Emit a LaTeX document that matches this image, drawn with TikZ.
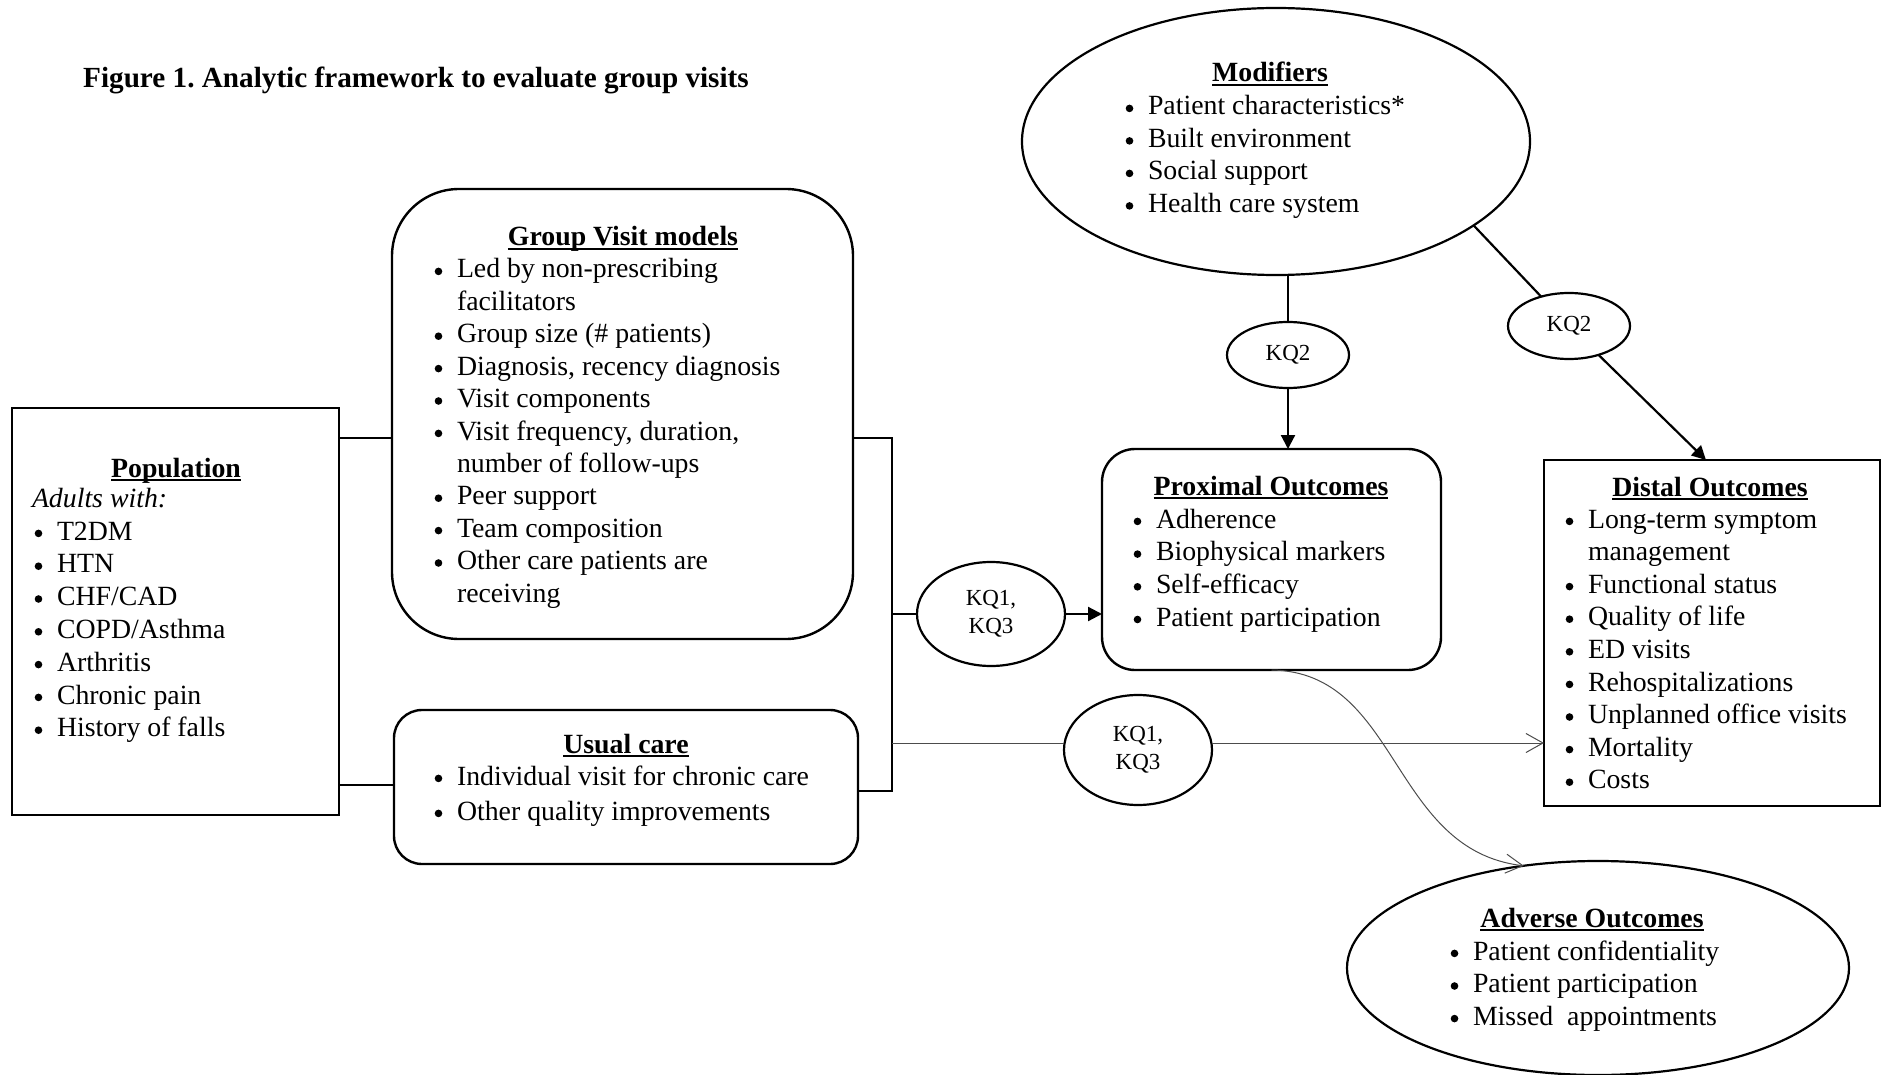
\documentclass[tikz,border=0pt]{standalone}
\usepackage{fontspec}
\setmainfont{Liberation Serif}
\usetikzlibrary{shapes.geometric,arrows.meta,calc}
\frenchspacing
\newsavebox\ulsave
\newcommand\ulhead[1]{\sbox\ulsave{\bfseries #1}\rlap{\rule[-4pt]{\wd\ulsave}{1.8pt}}\usebox\ulsave}
\newcommand\bul{\llap{\tikz[baseline=0pt]\fill (0pt,6.6pt) circle (3.8pt);\hspace{14.7pt}}}
\newcommand\linelist[5]{%
  \foreach \t [count=\i from 0] in {#5} {\node[body] (#1-\i) at (#2,#3+\i*#4) {\t};}}
\begin{document}
\begin{tikzpicture}[x=1pt,y=-1pt,
  box/.style={draw, line width=2.4pt, inner sep=0pt, outer sep=0pt},
  oval/.style={ellipse, draw, line width=2.2pt, inner sep=0pt, outer sep=0pt},
  body/.style={inner sep=0pt, outer sep=0pt, font=\fontsize{27.8}{32.6}\selectfont, anchor=base west},
  head/.style={inner sep=0pt, outer sep=0pt, font=\fontsize{27.8}{32.6}\selectfont, anchor=base},
  kq/.style={oval, align=center, font=\fontsize{23}{28}\selectfont},
  conn/.style={line width=2.2pt},
  arr/.style={conn, -{Triangle[length=14pt,width=14pt]}},
  thinline/.style={line width=1pt, draw=black!70},
  thinarr/.style={thinline, -{Straight Barb[length=17pt,width=19pt]}},
]
\useasboundingbox (0,0) rectangle (1883,1075);

% title
\node[anchor=base west, inner sep=0pt, font=\fontsize{29.2}{34}\selectfont\bfseries] (fig) at (83,88)
  {Figure 1. Analytic framework to evaluate group visits};

% boxes
\node[box, minimum width=327pt, minimum height=407pt] (pop) at (175.5,611.5) {};
\node[box, rounded corners=67pt, minimum width=461pt, minimum height=450pt] (gv) at (622.5,414) {};
\node[box, rounded corners=28pt, minimum width=464pt, minimum height=154pt] (uc) at (626,787) {};
\node[box, rounded corners=33pt, minimum width=339pt, minimum height=221pt] (prox) at (1271.5,559.5) {};
\node[box, minimum width=336pt, minimum height=346pt] (dist) at (1712,633) {};
\node[oval, minimum width=508pt, minimum height=267pt] (mod) at (1276,141.5) {};
\node[oval, minimum width=502pt, minimum height=214pt] (adv) at (1598,968) {};

% KQ ovals
\node[kq, minimum width=148pt, minimum height=104pt] (kq1a) at (991,614) {KQ1,\\KQ3};
\node[kq, minimum width=148pt, minimum height=110pt] (kq1b) at (1138,750) {KQ1,\\KQ3};
\node[kq, minimum width=122pt, minimum height=66pt] (kq2a) at (1288,355) {KQ2};
\node[kq, minimum width=122pt, minimum height=66pt] (kq2b) at (1569,326) {KQ2};

% texts
\node[head] (popH) at (176,477) {\ulhead{Population}};
\node[body, font=\fontsize{27.8}{32.6}\selectfont\itshape] (popA) at (32,507) {Adults with:};
\linelist{popL}{57}{540}{32.8}{{\bul T2DM},{\bul HTN},{\bul CHF/CAD},{\bul COPD/Asthma},{\bul Arthritis},{\bul Chronic pain},{\bul History of falls}}

\node[head] (gvH) at (623,246) {\ulhead{Group Visit models}};
\linelist{gvL}{457}{278}{32.4}{{\bul Led by non-prescribing},{facilitators},{\bul Group size (\# patients)},{\bul Diagnosis, recency diagnosis},{\bul Visit components},{\bul Visit frequency, duration,},{number of follow-ups},{\bul Peer support},{\bul Team composition},{\bul Other care patients are},{receiving}}

\node[head] (ucH) at (626,753) {\ulhead{Usual care}};
\linelist{ucL}{457}{785}{35}{{\bul Individual visit for chronic care},{\bul Other quality improvements}}

\node[head] (proxH) at (1271,495) {\ulhead{Proximal Outcomes}};
\linelist{proxL}{1156}{528}{32.7}{{\bul Adherence},{\bul Biophysical markers},{\bul Self-efficacy},{\bul Patient participation}}

\node[head] (distH) at (1710,496) {\ulhead{Distal Outcomes}};
\linelist{distL}{1588}{528}{32.6}{{\bul Long-term symptom},{management},{\bul Functional status},{\bul Quality of life},{\bul ED visits},{\bul Rehospitalizations},{\bul Unplanned office visits},{\bul Mortality},{\bul Costs}}

\node[head] (modH) at (1270,82) {\ulhead{Modifiers}};
\linelist{modL}{1148}{115}{32.5}{{\bul Patient characteristics*},{\bul Built environment},{\bul Social support},{\bul Health care system}}

\node[head] (advH) at (1592,927) {\ulhead{Adverse Outcomes}};
\linelist{advL}{1473}{960}{32.6}{{\bul Patient confidentiality},{\bul Patient participation},{\bul Missed\ \ appointments}}

% junction coordinates
\coordinate (j1) at (0,438);
\coordinate (j2) at (0,785);
\coordinate (brT) at (892,438);
\coordinate (brB) at (892,791);
\coordinate (brU) at (892,614);
\coordinate (brL) at (892,743);

% connectors
\draw[conn] (pop.east |- j1) -- (gv.west |- j1);
\draw[conn] (pop.east |- j2) -- (uc.west |- j2);
\draw[conn] (gv.east |- brT) -- (brT) -- (brB) -- (uc.east |- brB);
\draw[conn] (brU) -- (kq1a.west);
\draw[arr] (kq1a.east) -- (kq1a.east -| prox.west);
\draw[thinline] (brL) -- (brL -| kq1b.west);
\draw[thinarr] (brL -| kq1b.east) -- (brL -| dist.west);
\draw[conn] (kq2a.north |- mod.south) -- (kq2a.north);
\draw[arr] (kq2a.south) -- (kq2a.south |- prox.north);
\draw[conn] (mod.-23.5) -- (kq2b);
\draw[arr] (kq2b) -- ($(dist.north west)!0.482!(dist.north east)$);
\draw[thinarr] (prox.south) .. controls (1400,672) and (1390,850) .. (adv.126);
\end{tikzpicture}
\end{document}
